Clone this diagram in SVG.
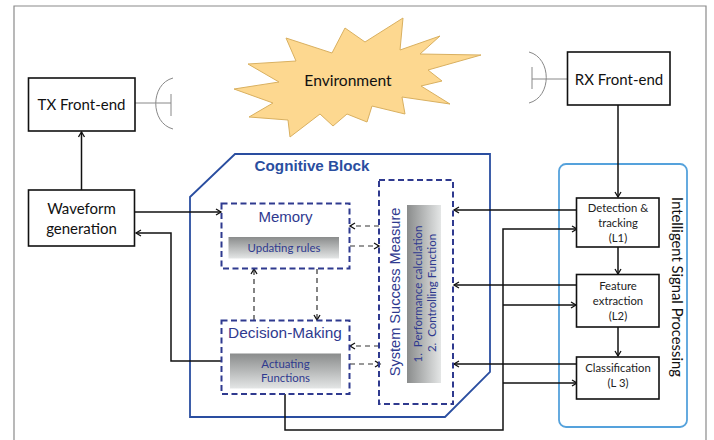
<svg xmlns="http://www.w3.org/2000/svg" width="714" height="440" viewBox="0 0 714 440">
<style>
text{font-family:"Lato","Open Sans",sans-serif;text-anchor:middle}
.box{fill:#fff;stroke:#111;stroke-width:1.6}
.lbl{font-size:15px;fill:#111}
.sm{font-size:11.300px;fill:#222}
.dash{fill:none;stroke:#2f3a8f;stroke-width:2;stroke-dasharray:6 3.5}
.blue{fill:#2f3a8f}
.con{fill:none;stroke:#111;stroke-width:1.5}
.dcon{fill:none;stroke:#333;stroke-width:1.2;stroke-dasharray:5 4}
.ant{fill:none;stroke:#888;stroke-width:1}
</style>
<defs>
<marker id="a" markerWidth="8" markerHeight="8" refX="6" refY="4" orient="auto" markerUnits="userSpaceOnUse"><path d="M1 1L6 4L1 7" fill="none" stroke="#111" stroke-width="1.3"/></marker>
<linearGradient id="gv" x1="0" y1="0" x2="0" y2="1"><stop offset="0" stop-color="#8a8c8c"/><stop offset="1" stop-color="#e4e6e6"/></linearGradient>
<linearGradient id="gh" x1="0" y1="0" x2="1" y2="0"><stop offset="0" stop-color="#8a8c8c"/><stop offset="1" stop-color="#e4e6e6"/></linearGradient>
</defs>
<rect width="714" height="440" fill="#fff"/>
<path d="M14 445V6H706V445" fill="none" stroke="#8a8a8a" stroke-width="1.2"/>
<g id="environment">
<polygon points="345,28 365,42 403,18 400,50 440,36 420,54 481,55 428,70 442,81 421,86 450,104 402,97 405,114 372,106 367,122 347,114 333,126 320,114 290,137 288,120 249,117 273,103 234,89 279,82 248,64 296,61 286,38 332,53" fill="#fdd890" stroke="#d9b060" stroke-width="1"/>
<text x="348" y="85.500" font-size="15.600" fill="#111">Environment</text>
</g>
<g id="cognitive-block">
<polygon points="235,154 490,154 490,372 445,417 190,417 190,197" fill="none" stroke="#2a4ea0" stroke-width="1.800"/>
<text x="312" y="171" font-size="15.200" font-weight="700" fill="#2a4ea0" style="font-family:'Liberation Sans',sans-serif">Cognitive Block</text>
</g>
<g id="isp">
<rect x="559" y="164" width="128" height="263" rx="7" fill="none" stroke="#55a2dc" stroke-width="1.800"/>
<text transform="translate(672,287) rotate(90)" font-size="14.800" fill="#111">Intelligent Signal Processing</text>
</g>
<g id="connectors">
<path class="con" d="M81.500 190V132" marker-end="url(#a)"/>
<path class="con" d="M135 212H221" stroke="#333" marker-end="url(#a)"/>
<path class="con" d="M221 361H171V233H136" marker-end="url(#a)"/>
<path class="con" d="M618 105V197" marker-end="url(#a)"/>
<path class="con" d="M618 247V274" marker-end="url(#a)"/>
<path class="con" d="M618 327V356" marker-end="url(#a)"/>
<path class="con" d="M577 210H454" marker-end="url(#a)"/>
<path class="con" d="M577 285H454" marker-end="url(#a)"/>
<path class="con" d="M577 364H454" marker-end="url(#a)"/>
<path class="con" d="M285 394V430H503V229H577" marker-end="url(#a)"/>
<path class="con" d="M503 305H576" marker-end="url(#a)"/>
<path class="con" d="M503 383H577" marker-end="url(#a)"/>
<path class="dcon" d="M379 226H350" marker-end="url(#a)"/>
<path class="dcon" d="M350 246H379" marker-end="url(#a)"/>
<path class="dcon" d="M379 346H350" marker-end="url(#a)"/>
<path class="dcon" d="M350 364H380" marker-end="url(#a)"/>
<path class="dcon" d="M254 320V269" marker-end="url(#a)"/>
<path class="dcon" d="M317 269V320" marker-end="url(#a)"/>
</g>
<g id="tx-antenna"><path class="ant" d="M135 103H171M171 94V116M173 78C150 84 150 123 173 129"/></g>
<g id="rx-antenna"><path class="ant" d="M567 79H532M532 67V89M529 52C552 58 552 97 529 103"/></g>
<g id="tx"><rect class="box" x="28.500" y="78" width="106.500" height="53"/><text class="lbl" x="81.500" y="110">TX Front-end</text></g>
<g id="waveform"><rect class="box" x="28.500" y="190" width="106" height="56"/><text class="lbl" x="81.500" y="213.500">Waveform</text><text class="lbl" x="81.500" y="234">generation</text></g>
<g id="rx"><rect class="box" x="567.500" y="52" width="102.500" height="53"/><text class="lbl" x="619" y="84.500">RX Front-end</text></g>
<g id="memory"><rect class="dash" x="221.500" y="203.500" width="128" height="65"/>
<text class="blue" x="285.500" y="222" font-size="15" style="font-family:'Liberation Sans',sans-serif">Memory</text>
<rect x="228.500" y="237" width="110.500" height="21.500" fill="url(#gv)"/>
<text class="blue" x="284" y="251.500" font-size="11.400">Updating rules</text></g>
<g id="decision"><rect class="dash" x="221.500" y="320.500" width="128" height="73.500"/>
<text class="blue" x="285" y="338" font-size="15.400" style="font-family:'Liberation Sans',sans-serif">Decision-Making</text>
<rect x="230" y="353.500" width="111" height="35" fill="url(#gv)"/>
<text class="blue" x="285.500" y="367.500" font-size="11.400">Actuating</text><text class="blue" x="285.500" y="382" font-size="11.400">Functions</text></g>
<g id="ssm"><rect class="dash" x="379" y="180" width="74" height="224"/>
<text class="blue" transform="translate(400,292) rotate(-90)" font-size="14.600" style="font-family:'Liberation Sans',sans-serif">System Success Measure</text>
<rect x="407" y="205" width="34" height="178" fill="url(#gh)"/>
<text class="blue" transform="translate(422,294) rotate(-90)" font-size="11.500" xml:space="preserve">1.  Performance calculation</text>
<text class="blue" transform="translate(436,293) rotate(-90)" font-size="11.500" xml:space="preserve">2.  Controlling Function</text></g>
<g id="detection"><rect class="box" x="576.500" y="198" width="82.500" height="49"/><text class="sm" x="618" y="212">Detection &amp;</text><text class="sm" x="618" y="227">tracking</text><text class="sm" x="618" y="241.500">(L1)</text></g>
<g id="feature"><rect class="box" x="576.500" y="274.500" width="82.500" height="52.500"/><text class="sm" x="618" y="290">Feature</text><text class="sm" x="618" y="305">extraction</text><text class="sm" x="618" y="320">(L2)</text></g>
<g id="classification"><rect class="box" x="576.500" y="357" width="82.500" height="42"/><text class="sm" x="618" y="372">Classification</text><text class="sm" x="618" y="387">(L 3)</text></g>
</svg>
